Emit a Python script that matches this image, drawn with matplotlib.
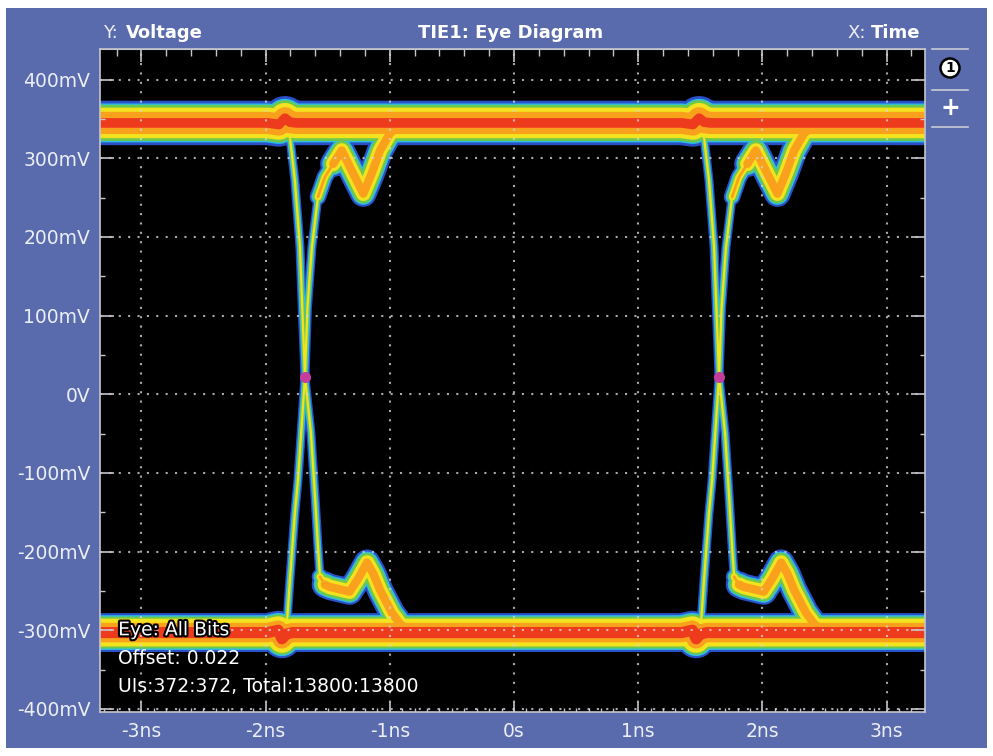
import matplotlib
matplotlib.use("Agg")
import matplotlib.pyplot as plt
import matplotlib.patheffects as pe
from matplotlib.lines import Line2D
from matplotlib.patches import Rectangle, Circle
from matplotlib.ticker import MultipleLocator, FuncFormatter

# ----------------------------------------------------------------------------------------------
# Values. Time in ns, voltage in mV.

T_MIN, T_MAX = -3.333, 3.309
V_MIN, V_MAX = -404, 439

# Eye Crossings
CROSS_T = [-1.683, 1.651]
CROSS_V = [22, 22]

# Logic Levels (Centre Of The Dense Bands)
HIGH_V = 345
LOW_V = -303

# Small Wobble Of The Bands Just Before Each Edge (Time Relative To Crossing)
HIGH_WOBBLE_T = [-0.30, -0.21, -0.161, -0.12, -0.07]
HIGH_WOBBLE_V = [345, 343, 351, 346, 345]
LOW_WOBBLE_T = [-0.30, -0.215, -0.185, -0.15, -0.10]
LOW_WOBBLE_V = [-303, -300, -311, -305, -303]

# Falling Edge, High -> Low, And The Ringing On The Low Side
FALL_T = [-0.161, -0.121, -0.081, -0.040, -0.024, 0.0, 0.048, 0.081, 0.105, 0.121]
FALL_V = [351, 327, 272, 187, 120, 22, -49, -130, -194, -232]
FALL_RING_T = [0.105, 0.121, 0.16, 0.20, 0.28, 0.36, 0.43, 0.50, 0.55, 0.605, 0.70, 0.766, 0.85]
FALL_RING_V = [-194, -232, -242, -245, -248, -251, -234, -214, -228, -249, -278, -292, -302]

# Rising Edge, Low -> High, And The Ringing On The High Side
RISE_T = [-0.185, -0.145, -0.121, -0.081, -0.056, 0.0, 0.02, 0.056, 0.105]
RISE_V = [-311, -291, -236, -151, -109, 22, 110, 187, 251]
RISE_RING_T = [0.056, 0.105, 0.16, 0.228, 0.296, 0.387, 0.47, 0.538, 0.605, 0.685, 0.766, 0.85]
RISE_RING_V = [187, 251, 276, 293, 310, 281, 255, 281, 310, 332, 342, 345]

# ----------------------------------------------------------------------------------------------
# Styles: density colours from sparse to dense, stroke width (pt) per density level

LEVEL_COLORS = ["#2b4fc6", "#2bbde8", "#6dc84e", "#f3e31f", "#f9a11d", "#ee3b1d"]
HIGH_BAND_W = [32, 28, 26, 22, 16, 7]
LOW_BAND_W = [28, 25, 23, 20, 14, 8]
EDGE_W = [6.5, 4.5, 3.0, 1.6, 0, 0]
RING_IN_W = [12, 9.5, 7.5, 5, 2, 0]
RING_W = [19, 16, 14, 10.5, 6, 0]

FRAME_BLUE = "#5a6bad"
TEXT_COL = "#eceef6"
TICK_COL = "#c4c6cc"

W, H = 993, 756


def fig_xy(px, py):
    return px / W, 1 - py / H


def band_path(level, wob_t, wob_v):
    t = [T_MIN - 0.3]
    v = [level]
    for c in CROSS_T:
        t += [c + x for x in wob_t]
        v += list(wob_v)
    t.append(T_MAX + 0.3)
    v.append(level)
    return t, v


fig = plt.figure(figsize=(W / 100, H / 100), dpi=100, facecolor="white")
fig.add_artist(Rectangle((6 / W, 8 / H), 981 / W, 740 / H, transform=fig.transFigure,
                         facecolor=FRAME_BLUE, edgecolor="none", zorder=-1))

ax = fig.add_axes([100 / W, 44 / H, 825 / W, 663 / H])
ax.set_facecolor("black")
ax.set_xlim(T_MIN, T_MAX)
ax.set_ylim(V_MIN, V_MAX)

high_t, high_v = band_path(HIGH_V, HIGH_WOBBLE_T, HIGH_WOBBLE_V)
low_t, low_v = band_path(LOW_V, LOW_WOBBLE_T, LOW_WOBBLE_V)

line_kw = dict(solid_capstyle="round", solid_joinstyle="round", zorder=2)

# Draw Every Density Level For All Traces, Sparse First So Dense Colours Sit On Top
for i, col in enumerate(LEVEL_COLORS):
    ax.plot(high_t, high_v, color=col, lw=HIGH_BAND_W[i], **line_kw)
    ax.plot(low_t, low_v, color=col, lw=LOW_BAND_W[i], **line_kw)

    for c in CROSS_T:
        fr_t = [c + x for x in FALL_RING_T]
        rr_t = [c + x for x in RISE_RING_T]
        if RING_IN_W[i] > 0:
            ax.plot(fr_t[1:4], FALL_RING_V[1:4], color=col, lw=RING_IN_W[i], **line_kw)
            ax.plot(rr_t[1:4], RISE_RING_V[1:4], color=col, lw=RING_IN_W[i], **line_kw)
        if RING_W[i] > 0:
            ax.plot(fr_t[2:], FALL_RING_V[2:], color=col, lw=RING_W[i], **line_kw)
            ax.plot(rr_t[3:], RISE_RING_V[3:], color=col, lw=RING_W[i], **line_kw)
        if EDGE_W[i] > 0:
            ax.plot([c + x for x in FALL_T], FALL_V, color=col, lw=EDGE_W[i], **line_kw)
            ax.plot([c + x for x in RISE_T], RISE_V, color=col, lw=EDGE_W[i], **line_kw)

ax.plot(CROSS_T, CROSS_V, "o", color="#c43c9c", ms=8, mec="none", zorder=3)

# Grid, Ticks, Spines
ax.set_axisbelow(False)
ax.grid(True, which="major", color="#d4d4d4", alpha=0.8, lw=1.5, linestyle=(0, (1, 3.5)))

ax.xaxis.set_major_locator(MultipleLocator(1))
ax.xaxis.set_minor_locator(MultipleLocator(0.1))
ax.yaxis.set_major_locator(MultipleLocator(100))
ax.yaxis.set_minor_locator(MultipleLocator(50))
ax.xaxis.set_major_formatter(FuncFormatter(lambda t, _: "0s" if abs(t) < 1e-9 else f"{t:.0f}ns"))
ax.yaxis.set_major_formatter(FuncFormatter(lambda v, _: "0V" if abs(v) < 1e-9 else f"{v:.0f}mV"))

ax.tick_params(axis="x", which="major", direction="in", length=7, width=1.2, color=TICK_COL,
               top=False, labelsize=13.5, labelcolor=TEXT_COL, pad=7)
ax.tick_params(axis="x", which="minor", direction="in", length=3, width=1, color=TICK_COL, top=False)
ax.tick_params(axis="y", which="major", direction="in", length=10, width=1.2, color=TICK_COL,
               right=True, labelsize=13.5, labelcolor=TEXT_COL, pad=7)
ax.tick_params(axis="y", which="minor", direction="in", length=3.5, width=1, color=TICK_COL, right=True)

top = ax.secondary_xaxis("top")
top.xaxis.set_major_locator(MultipleLocator(1))
top.xaxis.set_minor_locator(MultipleLocator(0.2))
top.tick_params(which="major", direction="in", length=9, width=1.2, color=TICK_COL, labeltop=False)
top.tick_params(which="minor", direction="in", length=5, width=1, color=TICK_COL)
top.spines["top"].set_color(TICK_COL)

for s in ax.spines.values():
    s.set_color(TICK_COL)
    s.set_linewidth(1.2)

# Read-outs Inside The Plot
ax.text(0.022, 0.124, "Eye: All Bits", transform=ax.transAxes, color="white", fontsize=13.5,
        va="center", ha="left", zorder=5,
        path_effects=[pe.withStroke(linewidth=3, foreground="black")])
ax.text(0.022, 0.080, "Offset: 0.022", transform=ax.transAxes, color="white", fontsize=13.5,
        va="center", ha="left", zorder=5)
ax.text(0.022, 0.039, "UIs:372:372, Total:13800:13800", transform=ax.transAxes, color="white",
        fontsize=13.5, va="center", ha="left", zorder=5)

# Header
fig.text(*fig_xy(103, 33), "Y:", color=TEXT_COL, fontsize=13, va="center", ha="left")
fig.text(*fig_xy(126, 33), "Voltage", color="white", fontsize=13, fontweight="bold", va="center", ha="left")
fig.text(*fig_xy(511, 33), "TIE1: Eye Diagram", color="white", fontsize=13, fontweight="bold",
         va="center", ha="center")
fig.text(*fig_xy(866, 33), "X:", color=TEXT_COL, fontsize=13, va="center", ha="right")
fig.text(*fig_xy(920, 33), "Time", color="white", fontsize=13, fontweight="bold", va="center", ha="right")

# Side Panel
for py in [49, 90, 127]:
    x0, y0 = fig_xy(932, py)
    x1, _ = fig_xy(968, py)
    fig.add_artist(Line2D([x0, x1], [y0, y0], transform=fig.transFigure, color="#c8cad4", lw=1.2))

fig.add_artist(Circle((9.50, (H - 68) / 100), 0.095, transform=fig.dpi_scale_trans,
                      facecolor="white", edgecolor="black", lw=1.8))
fig.text(*fig_xy(950, 68), "1", color="black", fontsize=10, fontweight="bold", va="center", ha="center")
fig.text(*fig_xy(950, 108), "+", color="white", fontsize=17, fontweight="bold", va="center", ha="center")

fig.savefig("out.png", dpi=100, facecolor="white")
